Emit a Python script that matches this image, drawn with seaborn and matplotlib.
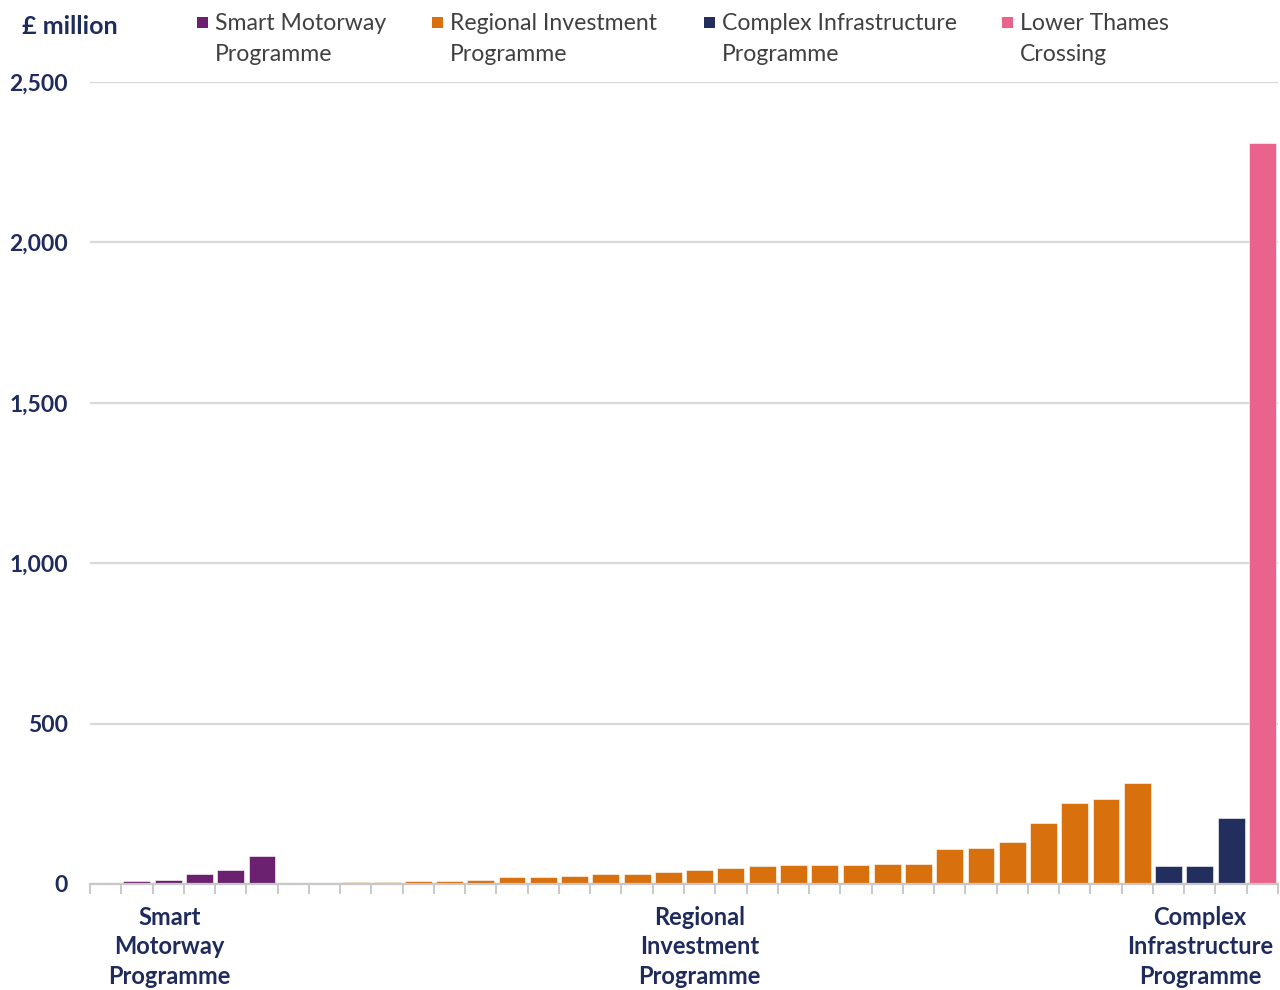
import numpy as np
import pandas as pd
import matplotlib
matplotlib.use("Agg")
import matplotlib.pyplot as plt
from matplotlib.patches import Rectangle
from matplotlib.transforms import blended_transform_factory
import seaborn as sns

# Spend per scheme, £ million, grouped by programme
smart_motorway = [10, 14, 31, 44, 86]
regional_investment = [5, 5, 9, 9, 13, 22, 22, 26, 30, 30, 38, 43, 51, 55, 59,
                       59, 59, 63, 63, 109, 113, 131, 189, 252, 264, 315]
complex_infrastructure = [55, 55, 206]
lower_thames = [2310]

programmes = ["Smart Motorway\nProgramme", "Regional Investment\nProgramme",
              "Complex Infrastructure\nProgramme", "Lower Thames\nCrossing"]
colours = ["#6B2170", "#D8700E", "#222F5E", "#EA638C"]

group_labels = ["Smart\nMotorway\nProgramme", "Regional\nInvestment\nProgramme",
                "Complex\nInfrastructure\nProgramme"]

y_ticks = [0, 500, 1000, 1500, 2000, 2500]

# Slot layout along the category axis: one blank slot before the first group,
# two blank slots between smart motorways and regional investment
n_slots = 1 + len(smart_motorway) + 2 + len(regional_investment) \
    + len(complex_infrastructure) + len(lower_thames)
slot_names = [f"s{i:02d}" for i in range(n_slots)]

rows = []
pos = 1
for v in smart_motorway:
    rows.append((slot_names[pos], v, programmes[0])); pos += 1
pos += 2
for vals, prog in [(regional_investment, programmes[1]),
                   (complex_infrastructure, programmes[2]),
                   (lower_thames, programmes[3])]:
    for v in vals:
        rows.append((slot_names[pos], v, prog)); pos += 1
df = pd.DataFrame(rows, columns=["slot", "value", "programme"])

navy_text = "#1F2B5C"
grey_text = "#404040"
grid_col = "#D9D9D9"

sns.set_theme(style="white")
plt.rcParams["font.family"] = ["Lato", "DejaVu Sans"]

fig = plt.figure(figsize=(12.8, 9.9), dpi=100)
ax = fig.add_axes([90 / 1280, 1 - 884 / 990, 1188 / 1280, (884 - 82) / 990])

sns.barplot(data=df, x="slot", y="value", hue="programme", order=slot_names,
            hue_order=programmes, palette=colours, saturation=1, dodge=False,
            width=0.86, edgecolor="white", linewidth=0.4, legend=False, ax=ax)

ax.set_xlim(-0.5, n_slots - 0.5)
ax.set_ylim(0, 2500)
ax.set_xlabel("")
ax.set_ylabel("")

# Horizontal gridlines and y labels
ax.set_yticks(y_ticks)
ax.set_yticklabels([f"{t:,}" for t in y_ticks], fontsize=16.5, fontweight="bold",
                   color=navy_text)
ax.tick_params(axis="y", length=0, pad=16)
ax.yaxis.grid(True, color=grid_col, linewidth=1.6)
ax.set_axisbelow(True)

for s in ["top", "right", "left"]:
    ax.spines[s].set_visible(False)
ax.spines["bottom"].set_color("#C8C8C8")
ax.spines["bottom"].set_linewidth(1.6)

# Tick marks at slot boundaries
ax.set_xticks(np.arange(-0.5, n_slots, 1.0))
ax.set_xticklabels([])
ax.tick_params(axis="x", length=7, width=1.4, color="#C8C8C8", direction="out",
               bottom=True)

# Group labels under the axis
trans = blended_transform_factory(ax.transData, fig.transFigure)
for xpos, lab in zip([2.05, 19, 35], group_labels):
    ax.text(xpos, 1 - 947 / 990, lab, transform=trans, ha="center", va="center",
            fontsize=17, fontweight="bold", color=navy_text, linespacing=1.33)

# Units label
fig.text(22 / 1280, 1 - 27 / 990, "£ million", ha="left", va="center",
         fontsize=18, fontweight="bold", color=navy_text)

# Legend along the top
legend_x = [197, 432, 704, 1002]
for lx, prog, col in zip(legend_x, programmes, colours):
    fig.patches.append(Rectangle((lx / 1280, 1 - 28 / 990), 11 / 1280, 11 / 990,
                                 transform=fig.transFigure, facecolor=col,
                                 edgecolor="none"))
    fig.text((lx + 18) / 1280, 1 - 39 / 990, prog, ha="left", va="center",
             fontsize=16.6, color=grey_text, linespacing=1.62)

fig.savefig("out.png", dpi=100, facecolor="white")
